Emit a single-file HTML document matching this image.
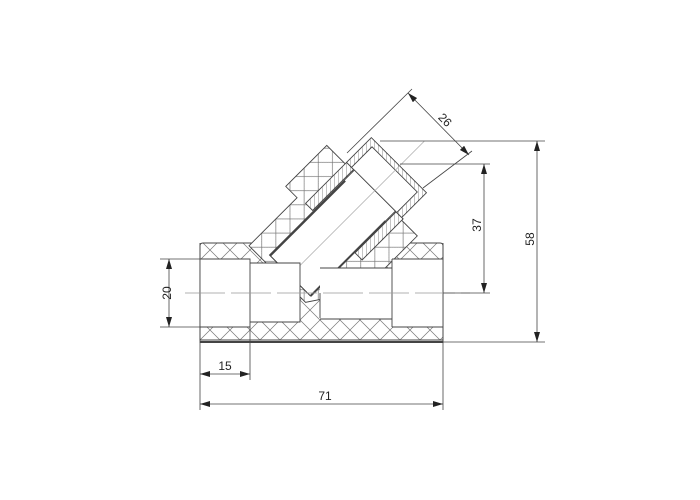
<!DOCTYPE html>
<html><head><style>html,body{margin:0;padding:0;background:#fff}svg{display:block}text{font-family:"Liberation Sans",sans-serif;font-size:12px;fill:#222}</style></head>
<body>
<svg width="700" height="500" viewBox="0 0 700 500" xmlns="http://www.w3.org/2000/svg">
<defs>
<pattern id="h" width="20" height="20" patternUnits="userSpaceOnUse">
<rect width="20" height="20" fill="#fff"/>
<path d="M0 0L20 20M20 0L0 20" stroke="#777" stroke-width="0.7"/>
</pattern>
<pattern id="s" width="4" height="4" patternUnits="userSpaceOnUse" patternTransform="rotate(45)">
<rect width="4" height="4" fill="#fff"/><path d="M0 0V4" stroke="#888" stroke-width="1"/>
</pattern>
<marker id="a" viewBox="0 0 10 6" refX="10" refY="3" markerWidth="10" markerHeight="6" orient="auto-start-reverse" markerUnits="userSpaceOnUse"><path d="M0 0L10 3L0 6z" fill="#222"/></marker>
</defs>
<g stroke="#444" stroke-width="0.9" fill="none">
<path d="M203 243H440Q443 243 443 246V340H200V246Q200 243 203 243Z" fill="url(#h)"/>
<g transform="translate(290,275.5) rotate(-45)">
<path d="M-8 -50H60V-66H118V62H40L-8 30Z" fill="url(#h)"/>
<rect x="62" y="-40" width="58" height="10" fill="url(#s)"/>
<rect x="62" y="30" width="58" height="10" fill="url(#s)"/>
<rect x="120" y="-40" width="35" height="78" fill="url(#s)"/>
<rect x="120" y="-33" width="29" height="64" fill="#fff"/>
<rect x="0" y="-29" width="120" height="58" fill="#fff"/>
<line x1="0" y1="-28" x2="106" y2="-28" stroke-width="2"/>
<line x1="0" y1="29" x2="106" y2="29" stroke-width="2"/>
<line x1="0" y1="-29" x2="0" y2="29"/>
<line x1="-10" y1="0" x2="190" y2="0" stroke="#aaa" stroke-width="0.7"/>
</g>
<path d="M200 259H250V263H300V322H250V327H200Z" fill="#fff" stroke="none"/>
<path d="M320 268H392V259H443V327H392V319H320Z" fill="#fff" stroke="none"/>
<path d="M200 259H250V327H200M250 263H300V322H250M300 293V322M320 293V318M320 268H392V319H320M392 259H443M392 327H443M392 259V327"/>
<line x1="200" y1="342" x2="443" y2="342" stroke-width="2"/>
<line x1="200" y1="243" x2="200" y2="343"/>
<line x1="443" y1="243" x2="443" y2="343"/>
<line x1="185" y1="293" x2="470" y2="293" stroke="#999" stroke-width="0.7" stroke-dasharray="40 6"/>
<g stroke-width="0.8">
<line x1="160" y1="259" x2="200" y2="259"/><line x1="160" y1="327" x2="200" y2="327"/>
<line x1="169" y1="259" x2="169" y2="327" marker-start="url(#a)" marker-end="url(#a)"/>
<line x1="200" y1="343" x2="200" y2="410"/><line x1="250" y1="327" x2="250" y2="380"/><line x1="443" y1="343" x2="443" y2="410"/>
<line x1="200" y1="374" x2="250" y2="374" marker-start="url(#a)" marker-end="url(#a)"/>
<line x1="200" y1="404" x2="443" y2="404" marker-start="url(#a)" marker-end="url(#a)"/>
<line x1="380" y1="141" x2="545" y2="141"/><line x1="443" y1="342" x2="545" y2="342"/>
<line x1="537" y1="141" x2="537" y2="342" marker-start="url(#a)" marker-end="url(#a)"/>
<line x1="400" y1="164" x2="490" y2="164"/><line x1="443" y1="293" x2="490" y2="293"/>
<line x1="484" y1="164" x2="484" y2="293" marker-start="url(#a)" marker-end="url(#a)"/>
<line x1="408" y1="93" x2="469" y2="155" marker-start="url(#a)" marker-end="url(#a)"/>
<line x1="347" y1="153" x2="412" y2="89"/><line x1="423" y1="188" x2="472" y2="151"/>
</g>
</g>
<text x="166" y="298" transform="rotate(-90 166 293)" text-anchor="middle">20</text>
<text x="225" y="370" text-anchor="middle">15</text>
<text x="325" y="400" text-anchor="middle">71</text>
<text x="534" y="247" transform="rotate(-90 530 243)" text-anchor="middle">58</text>
<text x="481" y="233" transform="rotate(-90 477 229)" text-anchor="middle">37</text>
<text x="445" y="124" transform="rotate(45 445 120)" text-anchor="middle">26</text>
</svg>
</body></html>
